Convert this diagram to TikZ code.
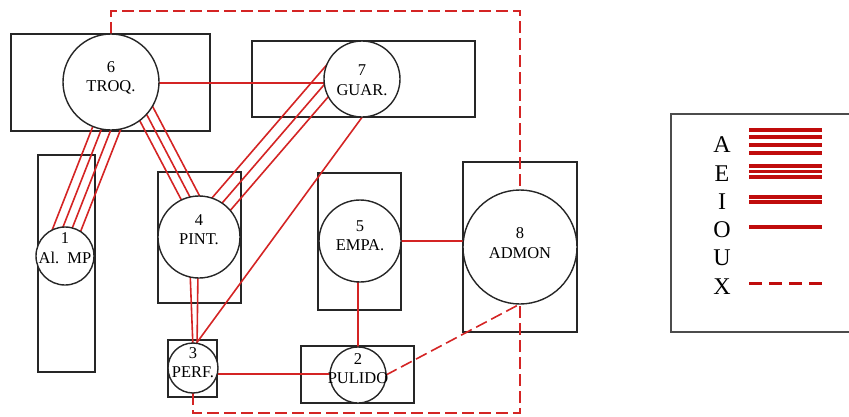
\documentclass[tikz,border=0pt]{standalone}
\usepackage{fontspec}
\setmainfont{Liberation Serif}
\usetikzlibrary{calc}
\pgfdeclarelayer{background}
\pgfsetlayers{background,main}
\definecolor{rl}{RGB}{212,36,36}
\definecolor{rleg}{RGB}{192,12,12}
\tikzset{
  zone/.style={draw=black!85, line width=1.4pt},
  dept/.style={circle, draw=black!85, line width=1.4pt, fill=white, inner sep=0pt, outer sep=0pt, minimum size=#1},
  rel/.style={draw=rl, line width=1.6pt},
  relx/.style={rel, dash pattern=on 12pt off 5pt},
  lbl/.style={font=\fontsize{16.5}{19.5}\selectfont, align=center, inner sep=0pt},
  leglbl/.style={font=\fontsize{24}{24}\selectfont, inner sep=0pt},
  legline/.style={draw=rleg, line width=#1},
}
\newcommand{\relbundle}[3]{\foreach \o in {#3}{\draw[rel] ($(#1)!\o pt!90:(#2)$) -- ($(#2)!\o pt!-90:(#1)$);}}
\begin{document}
\begin{tikzpicture}[x=1pt,y=-1pt]
\useasboundingbox (0,0) rectangle (849,416);

% departments
\node[dept=96pt] (n6) at (111,82) {};
\node[dept=76pt] (n7) at (362,79) {};
\node[dept=58pt] (n1) at (65,256) {};
\node[dept=82pt] (n4) at (199,237) {};
\node[dept=82pt] (n5) at (360,241) {};
\node[dept=114pt] (n8) at (520,247) {};
\node[dept=50pt] (n3) at (193,368) {};
\node[dept=56pt] (n2) at (358,375) {};

\node[lbl] (l6) at (111,78) {6\\TROQ.};
\node[lbl] (l7) at (362,80) {7\\GUAR.};
\node[lbl] (l8) at (520,243) {8\\ADMON};
\node[lbl] (l5) at (360,235.5) {5\\EMPA.};
\node[lbl] (l4) at (199,229.5) {4\\PINT.};
\node[lbl] (l1) at (65,248) {1\\Al.~~MP};
\node[lbl] (l3) at (193,362.5) {3\\PERF.};
\node[lbl] (l2) at (358,368.5) {2\\PULIDO};

\coordinate (dtop) at (300,11);
\coordinate (dbot) at (300,413);

\begin{pgfonlayer}{background}
% zones
\draw[zone] (11,34) rectangle (210,131);
\draw[zone] (252,41) rectangle (475,117);
\draw[zone] (38,155) rectangle (95,372);
\draw[zone] (158,172) rectangle (241,303);
\draw[zone] (168,340) rectangle (217,397);
\draw[zone] (318,173) rectangle (401,310);
\draw[zone] (301,346) rectangle (414,403);
\draw[zone] (463,162) rectangle (577,332);

% bundles
\coordinate (b61a) at ($(n6.center)+(5.7,20.6)$);
\coordinate (b61b) at ($(n1.center)+(-7.1,-3.7)$);
\relbundle{b61a}{b61b}{-13.5,-4.5,4.5,13.5}
\coordinate (b64a) at ($(n6.center)+(27.7,17.3)$);
\coordinate (b64b) at ($(n4.center)+(0.3,-22.3)$);
\relbundle{b64a}{b64b}{-9,0,9}
\coordinate (b74a) at ($(n7.center)+(-18.3,-17)$);
\coordinate (b74b) at ($(n4.center)+(14.2,-23.6)$);
\relbundle{b74a}{b74b}{-11,0,11}
\draw[rel] ($(n4.center)+(-9,33)$) -- ($(n3.center)+(0,-20)$);
\draw[rel] ($(n4.center)+(-1,33)$) -- ($(n3.center)+(4,-20)$);

% single relations
\draw[rel] ($(n6.center)+(0,1)$) -- ($(n7.center)+(0,4)$);
\draw[rel] ($(n7.center)+(16,16.5)$) -- ($(n3.center)+(-4.5,-14)$);
\draw[rel] (n5.center) -- ($(n8.center)+(0,-6)$);
\draw[rel] ($(n5.center)+(-2,0)$) -- (n2.center);
\draw[rel] ($(n3.center)+(0,6)$) -- ($(n2.center)+(0,-1)$);

% undesirable
\draw[relx] (n2.east) -- (n8.south);
\draw[relx] (n6.north) |- (dtop) -| (n8.north);
\draw[relx] (n3.south) |- (dbot) -| (n8.south);
\end{pgfonlayer}

% legend
\draw[zone, draw=black!70] (671,114) rectangle (856,332);
\node[leglbl] (la) at (722,145) {A};
\node[leglbl] (le) at (722,174) {E};
\node[leglbl] (li) at (722,202) {I};
\node[leglbl] (lo) at (722,230) {O};
\node[leglbl] (lu) at (722,258) {U};
\node[leglbl] (lx) at (722,287) {X};
\foreach \y in {130.3,137.2,145,152.8} \draw[legline=4pt] (749,\y) -- (822,\y);
\foreach \y in {166,171.5,177} \draw[legline=3.6pt] (749,\y) -- (822,\y);
\foreach \y in {196.5,202.2} \draw[legline=4pt] (749,\y) -- (822,\y);
\draw[legline=4pt] (749,226.8) -- (822,226.8);
\draw[legline=2.5pt, dash pattern=on 13pt off 7pt] (749,283.7) -- (822,283.7);
\end{tikzpicture}
\end{document}
